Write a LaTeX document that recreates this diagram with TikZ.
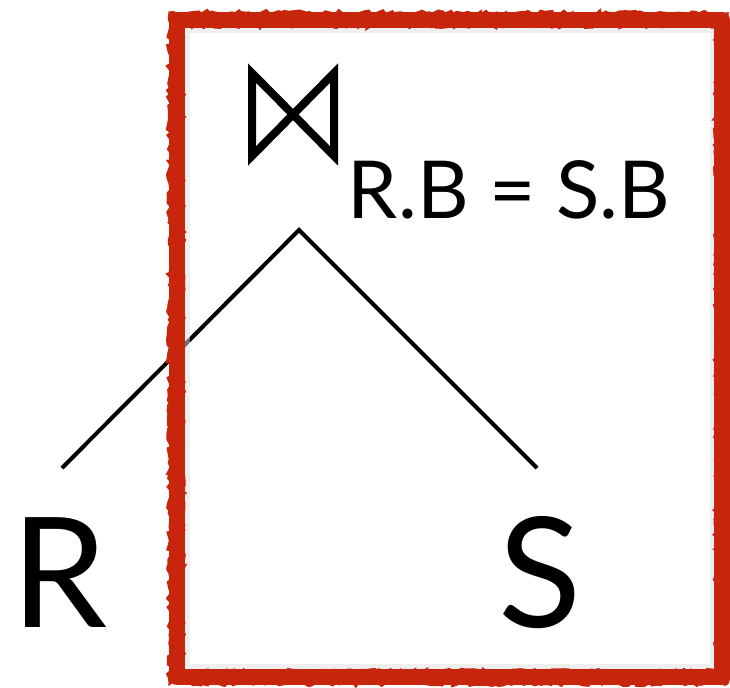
\documentclass[tikz,border=0pt]{standalone}
\usepackage{fontspec}
\setmainfont{Lato}
\usetikzlibrary{decorations.pathmorphing}
\definecolor{pencilred}{RGB}{200,38,12}

\begin{document}
\begin{tikzpicture}[x=0.75pt, y=-0.75pt,
  rel/.style={inner sep=0pt, anchor=base, font=\fontsize{115}{120}\selectfont},
  cond/.style={inner sep=0pt, anchor=base, font=\fontsize{60}{64}\selectfont},
  leg/.style={line width=3pt, black},
  frame/.style={line width=12pt, pencilred, line join=round},
  rough/.style={line width=2.5pt, pencilred, decorate,
                decoration={random steps, segment length=3pt, amplitude=1.8pt}}]
  \useasboundingbox (0,0) rectangle (730,687);
  % join operator and its condition
  \draw[line width=6pt, miter limit=10] (252,73) -- (334,156) -- (334,73) -- (252,156) -- cycle;
  \node[cond] (cond) at (509,218) {R.B = S.B};
  % relations
  \node[rel] (R) at (60,627) {R};
  \node[rel] (S) at (540,627) {S};
  \coordinate (top) at (299,230);
  \coordinate (rleg) at (62,468);
  \coordinate (sleg) at (537,468);
  \draw[leg] (rleg) -- (top) -- (sleg);
  % hand-drawn frame
  \draw[gray!25, line width=4pt, opacity=0.5] (187,30) rectangle (713,667);
  \draw[frame] (177,20) rectangle (722,677);
  \draw[rough] (170,13) -- (727,14) -- (727,683) -- (170,683) -- cycle;
  \draw[rough] (182,25) -- (717,25) -- (717,672) -- (182,672) -- cycle;
\end{tikzpicture}
\end{document}
